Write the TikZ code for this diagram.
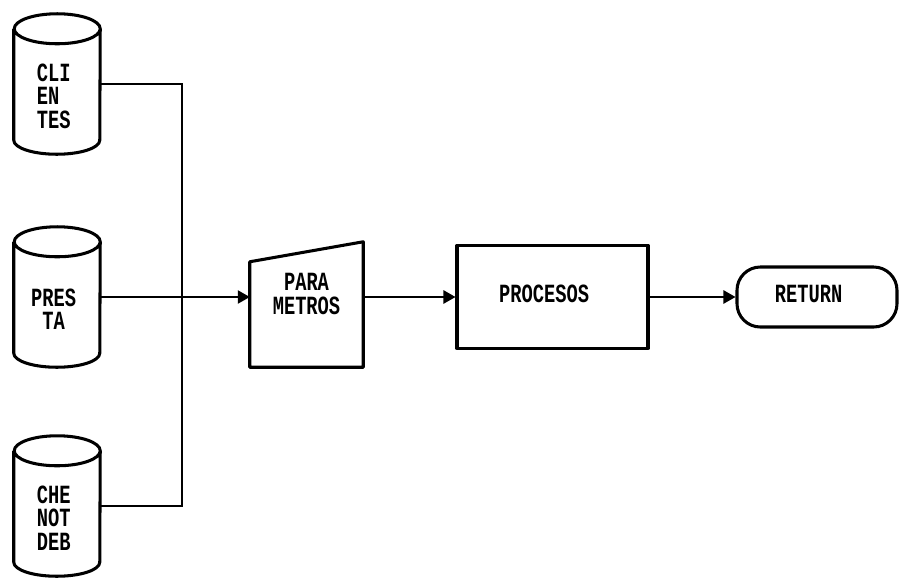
\documentclass[tikz,border=0pt]{standalone}
\usepackage{fontspec}
\setmonofont{Liberation Mono}
\usepackage{graphicx}
\usetikzlibrary{arrows.meta,positioning}

% dot-matrix like labels, stretched upwards
\newcommand{\dmtxt}[2][l]{\scalebox{1}[1.4]{\begin{tabular}{@{}#1@{}}#2\end{tabular}}}
% drum outline round a store node
\newcommand{\drumoutline}[1]{%
  \draw[shapeline] ([yshift=-0.45cm]#1.north west) -- ([yshift=0.42cm]#1.south west)
    arc[start angle=180,end angle=360,x radius=1.29cm,y radius=0.42cm]
    -- ([yshift=-0.45cm]#1.north east)
    arc[start angle=0,end angle=360,x radius=1.29cm,y radius=0.45cm];}

\tikzset{
  shapeline/.style={line width=2.6pt, line join=round},
  conn/.style={line width=1.2pt},
  flow/.style={conn, -{Triangle[length=0.36cm,width=0.4cm]}},
  dmfont/.style={font=\ttfamily\bfseries\fontsize{16pt}{12pt}\selectfont},
  datastore/.style={minimum width=2.58cm, minimum height=4.2cm, inner sep=0pt},
  cyltext/.style={dmfont, inner sep=0pt, yshift=-0.45cm, xshift=-0.1cm},
  manualin/.style={dmfont, minimum width=3.39cm, minimum height=4.2cm, inner sep=0pt},
  procbox/.style={draw, shapeline, dmfont, minimum width=5.73cm, minimum height=3.09cm},
  terminal/.style={draw, shapeline, dmfont, rounded corners=0.7cm, minimum width=4.8cm, minimum height=1.8cm},
}

\begin{document}
\begin{tikzpicture}[x=0.03cm,y=-0.03cm]
\useasboundingbox (0,0) rectangle (899,577);
% stores
\node[datastore, label={[cyltext,name=cli-t]center:\dmtxt{CLI\\EN\\TES}}] (cli) at (57,84) {};
\node[datastore, label={[cyltext,name=pre-t]center:\dmtxt{PRES\\~TA}}] (pre) at (57,297) {};
\node[datastore, label={[cyltext,name=che-t]center:\dmtxt{CHE\\NOT\\DEB}}] (che) at (57,506) {};
\drumoutline{cli}
\drumoutline{pre}
\drumoutline{che}

% manual input, process, end
\node[manualin] (par) at (306.5,297) {\dmtxt[c]{PARA\\METROS}};
\draw[shapeline] ([yshift=-1.05cm]par.north west) -- ([yshift=-0.45cm]par.north east)
  -- (par.south east) -- (par.south west) -- cycle;
\node[procbox] (proc) at (552.5,297) {\dmtxt{PROCESOS}\hspace*{0.5cm}};
\node[terminal] (ret) at (817,297) {\dmtxt{RETURN}\hspace*{0.5cm}};

% connectors
\coordinate (bus) at (182,297);
\draw[conn] (cli.east) -| (bus) |- (che.east);
\draw[flow] (pre.east) -- (par.west);
\draw[flow] (par.east) -- (proc.west);
\draw[flow] (proc.east) -- (ret.west);
\end{tikzpicture}
\end{document}
